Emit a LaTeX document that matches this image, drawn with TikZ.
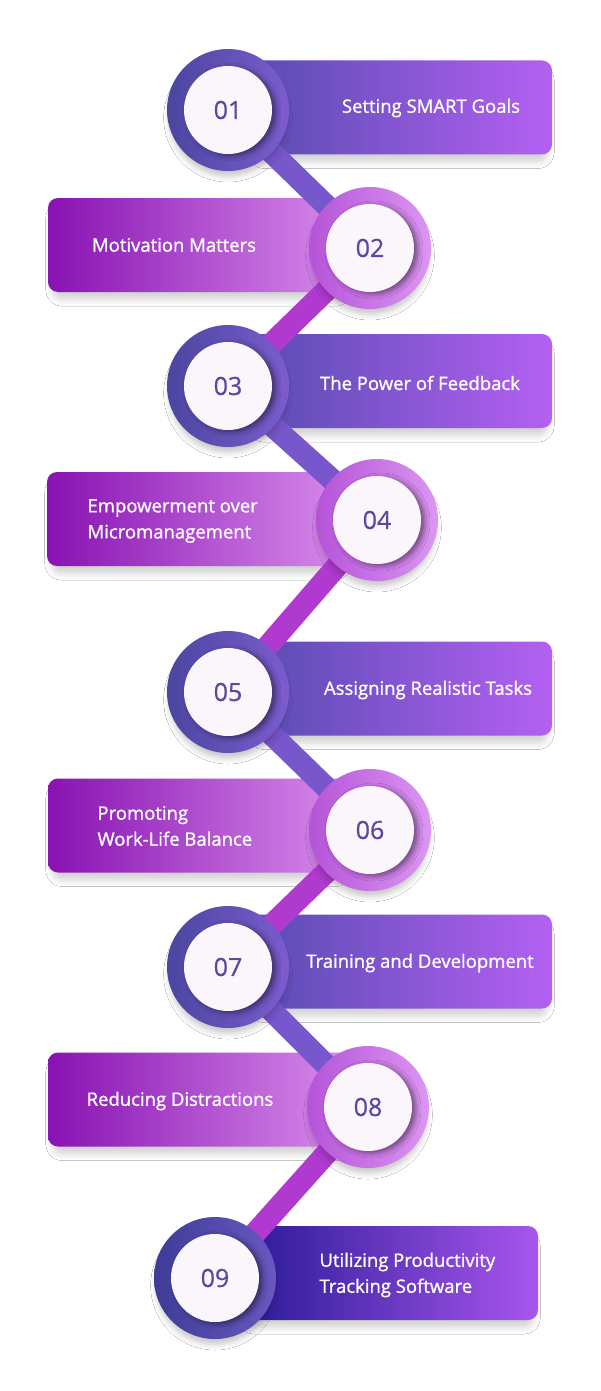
\documentclass[tikz,border=0pt]{standalone}
\usepackage{fontspec}
\setmainfont{Open Sans}
\newfontfamily\labelfont{Open Sans}[FakeBold=1.1]
\newfontfamily\numfont{Open Sans}[FakeBold=0.7]
\usetikzlibrary{shadows.blur}
\definecolor{ringAl}{RGB}{74,70,160}
\definecolor{ringAr}{RGB}{124,92,206}
\definecolor{ringBl}{RGB}{180,84,216}
\definecolor{ringBr}{RGB}{220,150,242}
\definecolor{ringCl}{RGB}{62,60,150}
\definecolor{ringCr}{RGB}{104,88,192}
\definecolor{boxAl}{RGB}{88,76,178}
\definecolor{boxAr}{RGB}{180,96,242}
\definecolor{boxBl}{RGB}{136,18,178}
\definecolor{boxBr}{RGB}{216,140,236}
\definecolor{boxCl}{RGB}{40,26,150}
\definecolor{boxCr}{RGB}{168,86,236}
\definecolor{linkAcol}{RGB}{120,86,204}
\definecolor{linkBcol}{RGB}{176,58,208}
\definecolor{dotfill}{RGB}{251,246,252}
\definecolor{numtext}{RGB}{88,74,158}

\tikzset{
  ring/.style={circle, inner sep=0pt, minimum size=122pt,
    blur shadow={shadow xshift=0pt, shadow yshift=-8pt, shadow scale=0.96, shadow blur radius=6pt, shadow opacity=22}},
  ringA/.style={ring, left color=ringAl, right color=ringAr},
  ringB/.style={ring, left color=ringBl, right color=ringBr},
  ringC/.style={ring, left color=ringCl, right color=ringCr},
  dot/.style={circle, inner sep=0pt, minimum size=88pt, fill=dotfill, text=numtext,
    font=\numfont\fontsize{25}{25}\selectfont,
    blur shadow={shadow xshift=4pt, shadow yshift=-2pt, shadow blur radius=5pt, shadow opacity=45}},
  panel/.style={rounded corners=10pt, minimum width=302pt, minimum height=94pt, inner sep=0pt,
    blur shadow={shadow xshift=0pt, shadow yshift=-9pt, shadow scale=0.97, shadow blur radius=7pt, shadow opacity=18}},
  panelA/.style={panel, left color=boxAl, right color=boxAr},
  panelB/.style={panel, left color=boxBl, right color=boxBr},
  panelC/.style={panel, minimum width=298pt, left color=boxCl, right color=boxCr},
  linkdown/.style={draw=linkAcol, line width=22pt},
  linkup/.style={draw=linkBcol, line width=22pt},
  caption/.style={text=white, align=left, font=\labelfont\fontsize{18.5}{26}\selectfont},
}

\begin{document}
\begin{tikzpicture}[x=1pt, y=-1pt]
	\useasboundingbox (0,0) rectangle (600,1391);
	\fill[white] (0,0) rectangle (600,1391);

	% panels
	\node[panelA] (b1) at (401,107.5) {};
	\node[panelB] (b2) at (199,245) {};
	\node[panelA] (b3) at (401,381) {};
	\node[panelB] (b4) at (198,519) {};
	\node[panelA] (b5) at (401,688.5) {};
	\node[panelB] (b6) at (199,825.5) {};
	\node[panelA] (b7) at (401,961.5) {};
	\node[panelB] (b8) at (199,1099.5) {};
	\node[panelC] (b9) at (389,1273) {};

	% step centres
	\coordinate (p1) at (228,110);
	\coordinate (p2) at (370,248);
	\coordinate (p3) at (228,386);
	\coordinate (p4) at (377,520);
	\coordinate (p5) at (228,692);
	\coordinate (p6) at (370,830);
	\coordinate (p7) at (228,967);
	\coordinate (p8) at (368,1107);
	\coordinate (p9) at (215,1278);

	% links
	\draw[linkdown] (p1) -- (p2);
	\draw[linkup] (p2) -- (p3);
	\draw[linkdown] (p3) -- (p4);
	\draw[linkup] (p4) -- (p5);
	\draw[linkdown] (p5) -- (p6);
	\draw[linkup] (p6) -- (p7);
	\draw[linkdown] (p7) -- (p8);
	\draw[linkup] (p8) -- (p9);

	% rings
	\node[ringA] (r1) at (p1) {};
	\node[ringB] (r2) at (p2) {};
	\node[ringA] (r3) at (p3) {};
	\node[ringB] (r4) at (p4) {};
	\node[ringA] (r5) at (p5) {};
	\node[ringB] (r6) at (p6) {};
	\node[ringA] (r7) at (p7) {};
	\node[ringB] (r8) at (p8) {};
	\node[ringC] (r9) at (p9) {};

	% numbers
	\node[dot] (n1) at (r1) {01};
	\node[dot] (n2) at (r2) {02};
	\node[dot] (n3) at (r3) {03};
	\node[dot] (n4) at (r4) {04};
	\node[dot] (n5) at (r5) {05};
	\node[dot] (n6) at (r6) {06};
	\node[dot] (n7) at (r7) {07};
	\node[dot] (n8) at (r8) {08};
	\node[dot] (n9) at (r9) {09};

	% captions
	\node[caption] (t1) at (431,108) {Setting SMART Goals};
	\node[caption] (t2) at (174,245) {Motivation Matters};
	\node[caption] (t3) at (420,383) {The Power of Feedback};
	\node[caption, anchor=west] (t4) at (84,521) {Empowerment over\\Micromanagement};
	\node[caption] (t5) at (428,690) {Assigning Realistic Tasks};
	\node[caption, anchor=west] (t6) at (94,826) {Promoting\\Work-Life Balance};
	\node[caption] (t7) at (420,963) {Training and Development};
	\node[caption] (t8) at (180,1101) {Reducing Distractions};
	\node[caption, anchor=west] (t9) at (316,1275) {Utilizing Productivity\\Tracking Software};
\end{tikzpicture}
\end{document}
